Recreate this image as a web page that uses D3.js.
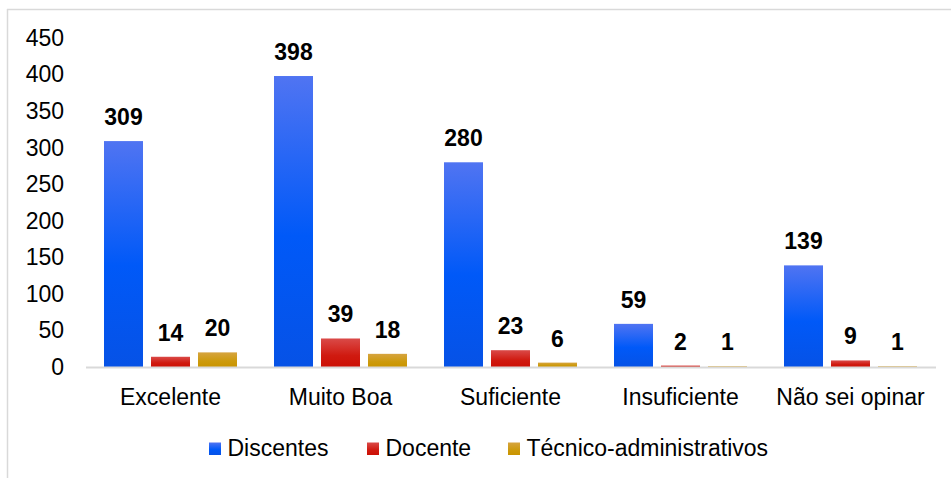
<!DOCTYPE html>
<html>
<head>
<meta charset="utf-8">
<script src="https://cdn.jsdelivr.net/npm/d3@7"></script>
<style>
  html, body { margin: 0; padding: 0; background: #fff; }
  svg { display: block; font-family: Arial, "Liberation Sans", sans-serif; }
</style>
</head>
<body>
<svg id="chart" width="951" height="478"></svg>
<script>
const categories = ["Excelente", "Muito Boa", "Suficiente", "Insuficiente", "Não sei opinar"];
const seriesNames = ["Discentes", "Docente", "Técnico-administrativos"];
const discentes = [309, 398, 280, 59, 139];
const docente = [14, 39, 23, 2, 9];
const tecnico = [20, 18, 6, 1, 1];
const yTicks = [0, 50, 100, 150, 200, 250, 300, 350, 400, 450];

const seriesValues = [discentes, docente, tecnico];
const gradStops = [
  [["0%", "#5074f2"], ["55%", "#0059f8"], ["100%", "#0652e6"]],
  [["0%", "#da4a48"], ["60%", "#d01a10"], ["100%", "#cc1005"]],
  [["0%", "#d6a440"], ["60%", "#cd9a0c"], ["100%", "#c99400"]]
];

const svg = d3.select("#chart");
const defs = svg.append("defs");
gradStops.forEach((stops, i) => {
  const g = defs.append("linearGradient").attr("id", "g" + i)
    .attr("x1", 0).attr("y1", 0).attr("x2", 0).attr("y2", 1);
  stops.forEach(s => g.append("stop").attr("offset", s[0]).attr("stop-color", s[1]));
});

// frame
svg.append("line").attr("x1", 7).attr("x2", 951).attr("y1", 9.5).attr("y2", 9.5)
  .attr("stroke", "#d9d9d9").attr("stroke-width", 1.5);
svg.append("line").attr("x1", 7.5).attr("x2", 7.5).attr("y1", 9).attr("y2", 478)
  .attr("stroke", "#d9d9d9").attr("stroke-width", 1.5);

const groupW = 133;
const x0 = d3.scaleBand().domain(categories).range([85.5, 935.5]).paddingInner(0).paddingOuter(0);
const x1 = d3.scaleBand().domain(d3.range(3)).range([0, groupW]).paddingInner(8 / 47).paddingOuter(0);
const y = d3.scaleLinear().domain([0, 450]).range([367, 38]);

// y tick labels
const yAxis = d3.axisLeft(y).tickValues(yTicks).tickSize(0).tickPadding(0);
const yg = svg.append("g").attr("transform", "translate(64,0)").call(yAxis);
yg.select(".domain").remove();
yg.selectAll("text").attr("font-size", 23).attr("fill", "#000")
  .attr("font-family", "Arial, 'Liberation Sans', sans-serif");

// bars
const groups = svg.append("g").selectAll("g").data(categories).join("g")
  .attr("transform", c => `translate(${x0(c) + (x0.bandwidth() - groupW) / 2},0)`);

groups.each(function (c, ci) {
  const g = d3.select(this);
  seriesValues.forEach((vals, si) => {
    const v = vals[ci];
    g.append("rect")
      .attr("x", x1(si)).attr("width", x1.bandwidth())
      .attr("y", y(v)).attr("height", Math.max(y(0) - y(v), 0.8))
      .attr("fill", `url(#g${si})`);
    g.append("text")
      .attr("x", x1(si) + x1.bandwidth() / 2)
      .attr("y", y(v) - 16)
      .attr("text-anchor", "middle")
      .attr("font-size", 23).attr("font-weight", "bold").attr("fill", "#000")
      .text(v);
  });
});

// x axis
const xAxis = d3.axisBottom(x0).tickSize(0).tickPadding(0);
const xg = svg.append("g").attr("transform", "translate(0,367)").call(xAxis);
xg.select(".domain").attr("stroke", "#d9d9d9").attr("stroke-width", 2);
xg.selectAll("text").attr("font-size", 23).attr("fill", "#000")
  .attr("font-family", "Arial, 'Liberation Sans', sans-serif")
  .attr("dy", null).attr("y", 38);

// legend
const legendX = [209, 367, 508];
const lg = svg.append("g");
seriesNames.forEach((n, i) => {
  lg.append("rect").attr("x", legendX[i]).attr("y", 442.5).attr("width", 12).attr("height", 12.5)
    .attr("fill", `url(#g${i})`);
  lg.append("text").attr("x", legendX[i] + 18.5).attr("y", 456)
    .attr("font-size", 23).attr("fill", "#000").text(n);
});
</script>
</body>
</html>
